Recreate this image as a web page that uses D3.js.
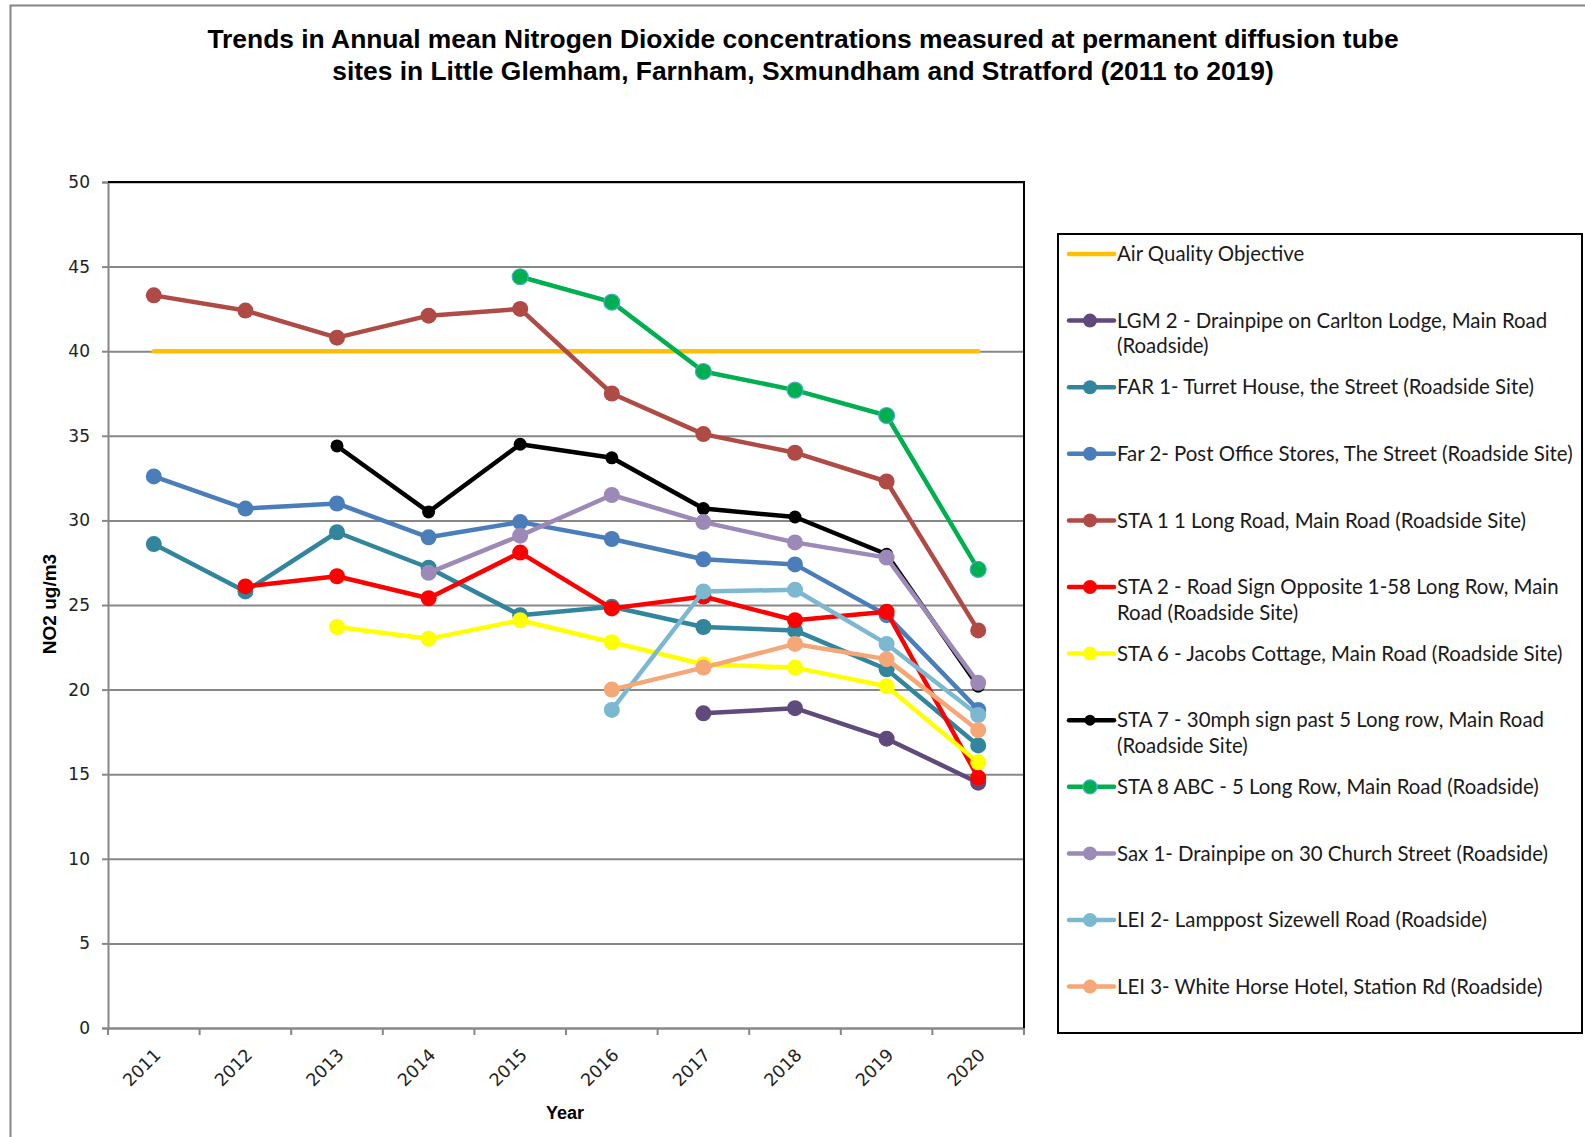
<!DOCTYPE html>
<html>
<head>
<meta charset="utf-8">
<script src="https://cdn.jsdelivr.net/npm/d3@7/dist/d3.min.js"></script>
<style>
    body { margin: 0; background: #fff; }
    svg { display: block; }
</style>
</head>
<body>
<svg id="chart" width="1585" height="1137"></svg>
<script>
// --- data ---
const years = ['2011', '2012', '2013', '2014', '2015', '2016', '2017', '2018', '2019', '2020'];
const yTicks = [0, 5, 10, 15, 20, 25, 30, 35, 40, 45, 50];

const aqo   = [40, 40, 40, 40, 40, 40, 40, 40, 40, 40];
const lgm2  = [null, null, null, null, null, null, 18.6, 18.9, 17.1, 14.5];
const far1  = [28.6, 25.8, 29.3, 27.2, 24.4, 24.9, 23.7, 23.5, 21.2, 16.7];
const far2  = [32.6, 30.7, 31.0, 29.0, 29.9, 28.9, 27.7, 27.4, 24.4, 18.8];
const sta1  = [43.3, 42.4, 40.8, 42.1, 42.5, 37.5, 35.1, 34.0, 32.3, 23.5];
const sta2  = [null, 26.1, 26.7, 25.4, 28.1, 24.8, 25.5, 24.1, 24.6, 14.8];
const sta6  = [null, null, 23.7, 23.0, 24.1, 22.8, 21.5, 21.3, 20.2, 15.7];
const sta7  = [null, null, 34.4, 30.5, 34.5, 33.7, 30.7, 30.2, 28.0, 20.2];
const sta8  = [null, null, null, null, 44.4, 42.9, 38.8, 37.7, 36.2, 27.1];
const sax1  = [null, null, null, 26.9, 29.1, 31.5, 29.9, 28.7, 27.8, 20.4];
const lei2  = [null, null, null, null, null, 18.8, 25.8, 25.9, 22.7, 18.5];
const lei3  = [null, null, null, null, null, 20.0, 21.3, 22.7, 21.8, 17.6];

const seriesNames = [
    'Air Quality Objective',
    'LGM 2 - Drainpipe on Carlton Lodge, Main Road (Roadside)',
    'FAR 1- Turret House, the Street (Roadside Site)',
    'Far 2- Post Office Stores, The Street (Roadside Site)',
    'STA 1 1 Long Road, Main Road (Roadside Site)',
    'STA 2 - Road Sign Opposite 1-58 Long Row, Main Road (Roadside Site)',
    'STA 6 - Jacobs Cottage, Main Road (Roadside Site)',
    'STA 7 - 30mph sign past 5 Long row, Main Road (Roadside Site)',
    'STA 8 ABC - 5 Long Row, Main Road (Roadside)',
    'Sax 1- Drainpipe on 30 Church Street (Roadside)',
    'LEI 2- Lamppost Sizewell Road (Roadside)',
    'LEI 3- White Horse Hotel, Station Rd (Roadside)'
];
const seriesValues = [aqo, lgm2, far1, far2, sta1, sta2, sta6, sta7, sta8, sax1, lei2, lei3];

// styles
const seriesColours = ['#FFC000', '#604A7B', '#31859C', '#4A7EBB', '#B04A45', '#FF0000',
    '#FFFF00', '#000000', '#00B050', '#9C89B8', '#7CB9D0', '#F5A777'];

const MARGIN = {left: 108, right: 1024, top: 182, bottom: 1028};

const svg = d3.select('#chart');

const xScale = d3.scaleBand()
    .domain(years)
    .range([MARGIN.left, MARGIN.right])
    .padding(0);

const yScale = d3.scaleLinear()
    .domain([0, 50])
    .range([MARGIN.bottom, MARGIN.top]);

const cx = d => xScale(d) + xScale.bandwidth() / 2;

// outer chart border
svg.append('rect')
    .attr('x', 10.5).attr('y', 5.5)
    .attr('width', 1600).attr('height', 1200)
    .attr('fill', 'none')
    .attr('stroke', '#868686')
    .attr('stroke-width', 2);

// title
const title = svg.append('text')
    .attr('text-anchor', 'middle')
    .attr('font-family', '"Liberation Sans", Arial, sans-serif')
    .attr('font-weight', 'bold')
    .attr('font-size', 26.4)
    .attr('fill', '#000');
title.append('tspan').attr('x', 803).attr('y', 48)
    .text('Trends in Annual mean Nitrogen Dioxide concentrations measured at permanent diffusion tube');
title.append('tspan').attr('x', 803).attr('y', 80)
    .text('sites in Little Glemham, Farnham, Sxmundham and Stratford (2011 to 2019)');

// gridlines
svg.append('g')
    .attr('transform', `translate(${MARGIN.left}, 0)`)
    .call(d3.axisLeft(yScale).tickValues(yTicks).tickSize(-(MARGIN.right - MARGIN.left)).tickFormat(''))
    .call(g => g.select('.domain').remove())
    .call(g => g.selectAll('line').attr('stroke', '#878787').attr('stroke-width', 2));

// y axis
svg.append('g')
    .attr('transform', `translate(${MARGIN.left}, 0)`)
    .call(d3.axisLeft(yScale).tickValues(yTicks).tickSize(6).tickPadding(12))
    .call(g => g.select('.domain').attr('stroke', '#878787').attr('stroke-width', 2))
    .call(g => g.selectAll('line').attr('stroke', '#878787').attr('stroke-width', 2))
    .call(g => g.selectAll('text')
        .attr('font-family', '"DejaVu Sans", Verdana, sans-serif')
        .attr('font-size', 17)
        .attr('fill', '#222'));

// x axis
svg.append('g')
    .attr('transform', `translate(0, ${MARGIN.bottom})`)
    .call(d3.axisBottom(xScale).tickSize(0).tickPadding(0))
    .call(g => g.select('.domain').attr('stroke', '#878787').attr('stroke-width', 2))
    .call(g => g.selectAll('text')
        .attr('font-family', '"DejaVu Sans", Verdana, sans-serif')
        .attr('font-size', 17.5)
        .attr('fill', '#222')
        .attr('text-anchor', 'end')
        .attr('dy', 0)
        .attr('transform', 'translate(8, 28) rotate(-45)'));

// x tick marks sit on category edges
svg.append('g')
    .selectAll('line')
    .data(years.map(d => xScale(d)).concat([xScale.range()[1]]))
    .join('line')
    .attr('x1', d => d).attr('x2', d => d)
    .attr('y1', MARGIN.bottom).attr('y2', MARGIN.bottom + 7)
    .attr('stroke', '#878787')
    .attr('stroke-width', 2);

// plot frame top/right
svg.append('path')
    .attr('d', `M${MARGIN.left},${MARGIN.top}H${MARGIN.right}V${MARGIN.bottom}`)
    .attr('fill', 'none')
    .attr('stroke', '#000')
    .attr('stroke-width', 2);

// axis titles
svg.append('text')
    .attr('transform', 'translate(55.5, 604) rotate(-90)')
    .attr('text-anchor', 'middle')
    .attr('font-family', '"Liberation Sans", Arial, sans-serif')
    .attr('font-weight', 'bold')
    .attr('font-size', 19)
    .text('NO2 ug/m3');

svg.append('text')
    .attr('x', 565).attr('y', 1119)
    .attr('text-anchor', 'middle')
    .attr('font-family', '"Liberation Sans", Arial, sans-serif')
    .attr('font-weight', 'bold')
    .attr('font-size', 18)
    .text('Year');

// series
const series = seriesNames.map((name, i) => ({
    name: name,
    values: seriesValues[i].map((v, j) => ({year: years[j], value: v})),
    colour: seriesColours[i],
    marker: i > 0
}));

const line = d3.line()
    .defined(d => d.value != null)
    .x(d => cx(d.year))
    .y(d => yScale(d.value));

const seriesG = svg.append('g')
    .selectAll('g')
    .data(series)
    .join('g');

seriesG.append('path')
    .attr('d', d => line(d.values))
    .attr('fill', 'none')
    .attr('stroke', d => d.colour)
    .attr('stroke-width', 4.5)
    .attr('stroke-linejoin', 'round')
    .attr('stroke-linecap', 'round');

seriesG.filter(d => d.marker)
    .selectAll('circle')
    .data(d => d.values.filter(v => v.value != null).map(v => ({...v, colour: d.colour, name: d.name})))
    .join('circle')
    .attr('cx', d => cx(d.year))
    .attr('cy', d => yScale(d.value))
    .attr('r', d => d.colour === '#000000' ? 6.5 : 8)
    .attr('fill', d => d.colour)
    .attr('stroke', d => d.colour === '#00B050' ? '#4BACC6' : 'none')
    .attr('stroke-width', 1.2);

// legend
const LEGEND = {x: 1058, y: 234, w: 524, h: 799, first: 254, step: 66.6, textX: 1117, maxW: 466};

svg.append('rect')
    .attr('x', LEGEND.x).attr('y', LEGEND.y)
    .attr('width', LEGEND.w).attr('height', LEGEND.h)
    .attr('fill', '#fff')
    .attr('stroke', '#000')
    .attr('stroke-width', 2);

const legendItems = svg.append('g')
    .selectAll('g')
    .data(series)
    .join('g')
    .attr('transform', (d, i) => `translate(0, ${LEGEND.first + i * LEGEND.step})`);

legendItems.append('line')
    .attr('x1', 1069).attr('x2', 1114)
    .attr('stroke', d => d.colour)
    .attr('stroke-width', 4.5)
    .attr('stroke-linecap', 'round');

legendItems.filter(d => d.marker)
    .append('circle')
    .attr('cx', 1090)
    .attr('r', d => d.colour === '#000000' ? 5.5 : 7)
    .attr('fill', d => d.colour)
    .attr('stroke', d => d.colour === '#00B050' ? '#4BACC6' : 'none')
    .attr('stroke-width', 1.2);

legendItems.each(function(d) {
    const g = d3.select(this);
    const text = g.append('text')
        .attr('font-family', 'Lato, "Open Sans", sans-serif')
        .attr('font-size', 20.4)
        .attr('fill', '#1a1a1a');
    const words = d.name.split(' ');
    let lineNo = 0;
    let tspan = text.append('tspan').attr('x', LEGEND.textX).attr('y', 0).attr('dy', '0.35em');
    let current = [];
    words.forEach(w => {
        current.push(w);
        tspan.text(current.join(' '));
        if (tspan.node().getComputedTextLength() > LEGEND.maxW && current.length > 1) {
            current.pop();
            tspan.text(current.join(' '));
            current = [w];
            lineNo++;
            tspan = text.append('tspan').attr('x', LEGEND.textX).attr('y', lineNo * 25.5)
                .attr('dy', '0.35em').text(w);
        }
    });
});
</script>
</body>
</html>
